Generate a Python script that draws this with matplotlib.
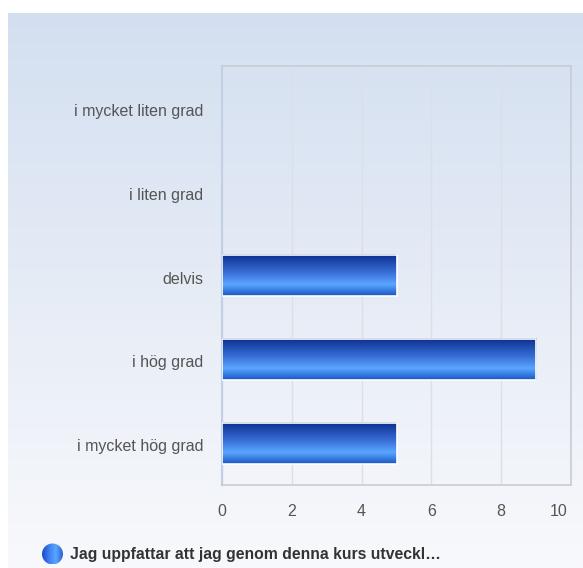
import numpy as np
import matplotlib.pyplot as plt
import matplotlib.transforms as mtransforms
from matplotlib.colors import LinearSegmentedColormap
from matplotlib.patches import Circle

plt.rcParams['font.family'] = ['Liberation Sans', 'DejaVu Sans']

categories = ['i mycket liten grad', 'i liten grad', 'delvis', 'i hög grad', 'i mycket hög grad']
values = [0, 0, 5, 9, 5]
xticks = [0, 2, 4, 6, 8, 10]
legend_label = 'Jag uppfattar att jag genom denna kurs utveckl…'

W, H = 583, 568
fig = plt.figure(figsize=(W / 100, H / 100), dpi=100)

# background gradient panel
bg = fig.add_axes([8 / W, 0, 1 - 8 / W, (H - 13) / H], zorder=0)
bg_cmap = LinearSegmentedColormap.from_list('bg', ['#d3dff0', '#e6ecf6', '#f8f9fc'])
bg.imshow(np.linspace(0, 1, 256).reshape(-1, 1), aspect='auto', cmap=bg_cmap,
          extent=[0, 1, 0, 1])
bg.set_axis_off()

# main axes
left, right, top, bottom = 222, 571, 66, 485
ax = fig.add_axes([left / W, 1 - bottom / H, (right - left) / W, (bottom - top) / H], zorder=1)
ax.patch.set_alpha(0)

y = np.arange(len(categories))
bars = ax.barh(y, values, height=0.49, color='none', edgecolor='none', zorder=3)

# gradient: dark navy on top, light band ~70% down, medium blue at bottom
bar_cmap = LinearSegmentedColormap.from_list(
    'bar', [(0, '#1a55c4'), (0.28, '#5aa6ff'), (0.55, '#3a70d8'), (1, '#0b2e8e')])
grad = np.linspace(0, 1, 256).reshape(-1, 1)
for b in bars:
    if b.get_width() <= 0:
        continue
    x0, y0, w, h = b.get_x(), b.get_y(), b.get_width(), b.get_height()
    ax.imshow(grad, aspect='auto', cmap=bar_cmap, origin='lower',
              extent=[x0, x0 + w, y0 + h, y0], zorder=3)
    ax.add_patch(plt.Rectangle((x0, y0), w, h, fill=False, edgecolor='white',
                               linewidth=1.2, zorder=4))

ax.set_xlim(0, 10)
ax.set_ylim(len(categories) - 0.5, -0.5)
ax.set_xticks(xticks)
ax.set_yticks(y)
ax.set_yticklabels(categories)
ax.tick_params(axis='both', length=0, labelsize=11.5, colors='#555555')
ax.tick_params(axis='y', pad=13.5)
ax.tick_params(axis='x', pad=13.5)
shift = mtransforms.ScaledTranslation(0, -2 / 100, fig.dpi_scale_trans)
for lbl in ax.get_yticklabels():
    lbl.set_transform(lbl.get_transform() + shift)
# last x label sits a bit inside the frame
last = ax.get_xticklabels()[-1]
last.set_transform(last.get_transform() +
                   mtransforms.ScaledTranslation(-12 / 100, 0, fig.dpi_scale_trans))
ax.grid(axis='x', color='#dcdfe5', linewidth=1, zorder=0)
ax.set_axisbelow(True)
for s in ['top', 'right', 'bottom']:
    ax.spines[s].set_color('#c9cdd3')
    ax.spines[s].set_linewidth(1.2)
ax.spines['left'].set_color('#c2cfe4')
ax.spines['left'].set_linewidth(1.5)

# legend
lg = fig.add_axes([0, 0, 1, 1], zorder=2)
lg.set_xlim(0, W)
lg.set_ylim(H, 0)
lg.set_axis_off()
circ = Circle((52.5, 554), 10.5, transform=lg.transData, facecolor='none', edgecolor='none')
lg.add_patch(circ)
leg_cmap = LinearSegmentedColormap.from_list('leg', ['#1b47c4', '#3d7ff0', '#5aa6ff', '#2a5fd0'])
im = lg.imshow(np.linspace(0, 1, 256).reshape(1, -1), aspect='auto', cmap=leg_cmap,
               extent=[42, 63, 564.5, 543.5], zorder=3)
im.set_clip_path(circ)
lg.set_xlim(0, W)
lg.set_ylim(H, 0)
lg.text(70, 555, legend_label, fontsize=11.3, fontweight='bold', color='#333333',
        va='center', ha='left')

fig.savefig('out.png', dpi=100)
